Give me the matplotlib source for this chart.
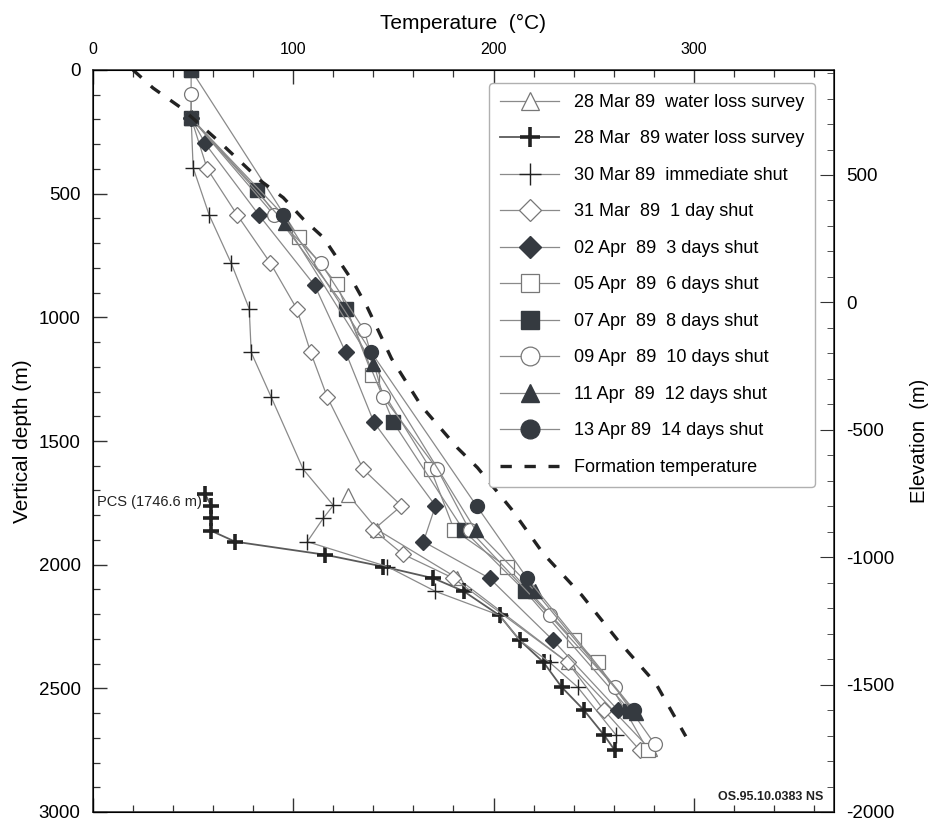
import numpy as np
import matplotlib.pyplot as plt
from matplotlib.ticker import MultipleLocator

plt.rcParams['font.family'] = ['Liberation Sans', 'DejaVu Sans']
plt.rcParams['axes.unicode_minus'] = False

# --- data: temperature (degC) vs vertical depth (m) ---
tri_T = [127.5, 142, 182, 237, 278]
tri_D = [1718, 1859, 2055, 2395, 2745]

pcs_T = [56, 59, 59, 59, 71, 116, 145, 170, 185, 203, 213, 225, 234, 245, 255, 260.5]
pcs_D = [1715, 1762, 1812, 1863, 1907, 1960, 2008, 2055, 2107, 2205, 2305, 2395, 2495, 2587, 2687, 2750]

imm_T = [49, 50, 58, 69, 78, 79, 89, 105, 120, 115, 107, 147, 171, 203, 213, 228, 242, 261]
imm_D = [194, 395, 586, 781, 965, 1142, 1323, 1615, 1760, 1812, 1907, 2008, 2108, 2205, 2305, 2395,
         2495, 2687]

d1_T = [49, 57, 72, 88.6, 101.7, 108.7, 117, 135, 154, 140, 154.6, 180, 237, 255, 273]
d1_D = [194, 399, 586, 781, 965, 1142, 1323, 1615, 1762, 1859, 1957, 2055, 2395, 2587, 2750]

d3_T = [49, 56, 82.8, 110.7, 126.2, 140.3, 171, 165, 198, 229.6, 262]
d3_D = [194, 297, 586, 871, 1142, 1425, 1762, 1907, 2055, 2305, 2587]

d6_T = [49, 102.8, 121.7, 139.5, 168.7, 180.4, 206.8, 240, 252, 277]
d6_D = [0, 677, 865, 1233, 1615, 1860, 2010, 2305, 2395, 2750]

d8_T = [49, 49, 82, 126.5, 150, 185, 215.5, 268]
d8_D = [0, 194, 485, 965, 1425, 1860, 2105, 2590]

d10_T = [49, 49, 90.3, 113.7, 135.4, 145, 172, 188, 228, 260.5, 280.6]
d10_D = [98, 194, 586, 780, 1052, 1323, 1615, 1860, 2205, 2495, 2727]

d12_T = [49, 96, 140, 191, 220.5, 271]
d12_D = [194, 620, 1190, 1860, 2105, 2600]

d14_T = [49, 95, 139, 191.5, 216.8, 270]
d14_D = [194, 586, 1142, 1762, 2055, 2587]

form_T = [20, 30, 44, 64, 84, 95, 105, 115, 130, 137, 149, 164, 182, 192, 209, 225, 244, 262, 281, 296]
form_D = [0, 73, 153, 297, 450, 516, 603, 677, 858, 960, 1166, 1359, 1528, 1608, 1776, 1957, 2123,
          2305, 2480, 2694]

labels = ['28 Mar 89  water loss survey', '28 Mar  89 water loss survey',
          '30 Mar 89  immediate shut', '31 Mar  89  1 day shut',
          '02 Apr  89  3 days shut', '05 Apr  89  6 days shut',
          '07 Apr  89  8 days shut', '09 Apr  89  10 days shut',
          '11 Apr  89  12 days shut', '13 Apr 89  14 days shut',
          'Formation temperature']

dark = '#353a40'
lgray = '#8a8a8a'

fig = plt.figure(figsize=(9.35, 8.24), dpi=100)
ax = fig.add_axes([93 / 935, 1 - 812 / 824, 741 / 935, 742 / 824])

line_kw = dict(color=lgray, lw=0.9)
ax.plot(tri_T, tri_D, marker='^', ms=10, mfc='white', mec='#777777', mew=0.9, label=labels[0], **line_kw)
ax.plot(pcs_T, pcs_D, marker='+', ms=11, mec='#222222', mew=2.6, color='#5a5a5a', lw=1.3,
        label=labels[1])
ax.plot(imm_T, imm_D, marker='+', ms=12, mec='#222222', mew=1.0, label=labels[2], **line_kw)
ax.plot(d1_T, d1_D, marker='D', ms=8, mfc='white', mec='#777777', mew=0.9, label=labels[3], **line_kw)
ax.plot(d3_T, d3_D, marker='D', ms=8, mfc=dark, mec=dark, label=labels[4], **line_kw)
ax.plot(d6_T, d6_D, marker='s', ms=10, mfc='white', mec='#777777', mew=0.9, label=labels[5], **line_kw)
ax.plot(d8_T, d8_D, marker='s', ms=10, mfc=dark, mec=dark, label=labels[6], **line_kw)
ax.plot(d10_T, d10_D, marker='o', ms=10, mfc='white', mec='#777777', mew=0.9, label=labels[7], **line_kw)
ax.plot(d12_T, d12_D, marker='^', ms=10, mfc=dark, mec=dark, label=labels[8], **line_kw)
ax.plot(d14_T, d14_D, marker='o', ms=10, mfc=dark, mec=dark, label=labels[9], **line_kw)
ax.plot(form_T, form_D, color='#222222', lw=2.4, ls=(0, (3.4, 3.8)), label=labels[10])

ax.set_xlim(0, 370)
ax.set_ylim(3000, 0)
ax.xaxis.set_major_locator(MultipleLocator(100))
ax.xaxis.set_minor_locator(MultipleLocator(20))
ax.yaxis.set_major_locator(MultipleLocator(500))
ax.yaxis.set_minor_locator(MultipleLocator(100))
ax.tick_params(which='both', direction='in', top=True, bottom=True, labeltop=True,
               labelbottom=False, color='#333333')
ax.tick_params(which='major', length=10, width=1.0)
ax.tick_params(which='minor', length=5, width=0.9)
ax.tick_params(axis='x', labelsize=11.5, pad=9)
ax.tick_params(axis='y', labelsize=13.5, pad=9)
ax.xaxis.set_label_position('top')
ax.set_xlabel('Temperature  (°C)', fontsize=15)
ax.xaxis.set_label_coords(0.5, 1.055)
ax.set_ylabel('Vertical depth (m)', fontsize=15)
ax.yaxis.set_label_coords(-0.082, 0.5)
for s in ax.spines.values():
    s.set_color('#333333')
    s.set_linewidth(1.2)

ax2 = ax.twinx()
ax2.set_ylim(-2000, 912)
ax2.yaxis.set_major_locator(MultipleLocator(500))
ax2.yaxis.set_minor_locator(MultipleLocator(100))
ax2.tick_params(which='both', direction='in', color='#333333', labelsize=13.5, pad=9)
ax2.tick_params(which='major', length=10)
ax2.tick_params(which='minor', length=5)
ax2.set_ylabel('Elevation  (m)', fontsize=14.5)
ax2.yaxis.set_label_coords(1.102, 0.5)

ax.text(2, 1746.6, 'PCS (1746.6 m)', fontsize=10.5, va='center', ha='left', color='#222222')
ax.text(0.985, 0.012, 'OS.95.10.0383 NS', transform=ax.transAxes, fontsize=9,
        fontweight='bold', ha='right', va='bottom', color='#222222')

leg = ax.legend(loc='upper right', bbox_to_anchor=(824 / 935, 1 - 74 / 824),
                bbox_transform=fig.transFigure, fontsize=13, markerscale=1.35,
                handlelength=3.3, labelspacing=1.08, borderpad=0.6, fancybox=True,
                framealpha=1, edgecolor='#b0b0b0')
leg.get_frame().set_linewidth(1.0)

fig.savefig('out.png', dpi=100)
